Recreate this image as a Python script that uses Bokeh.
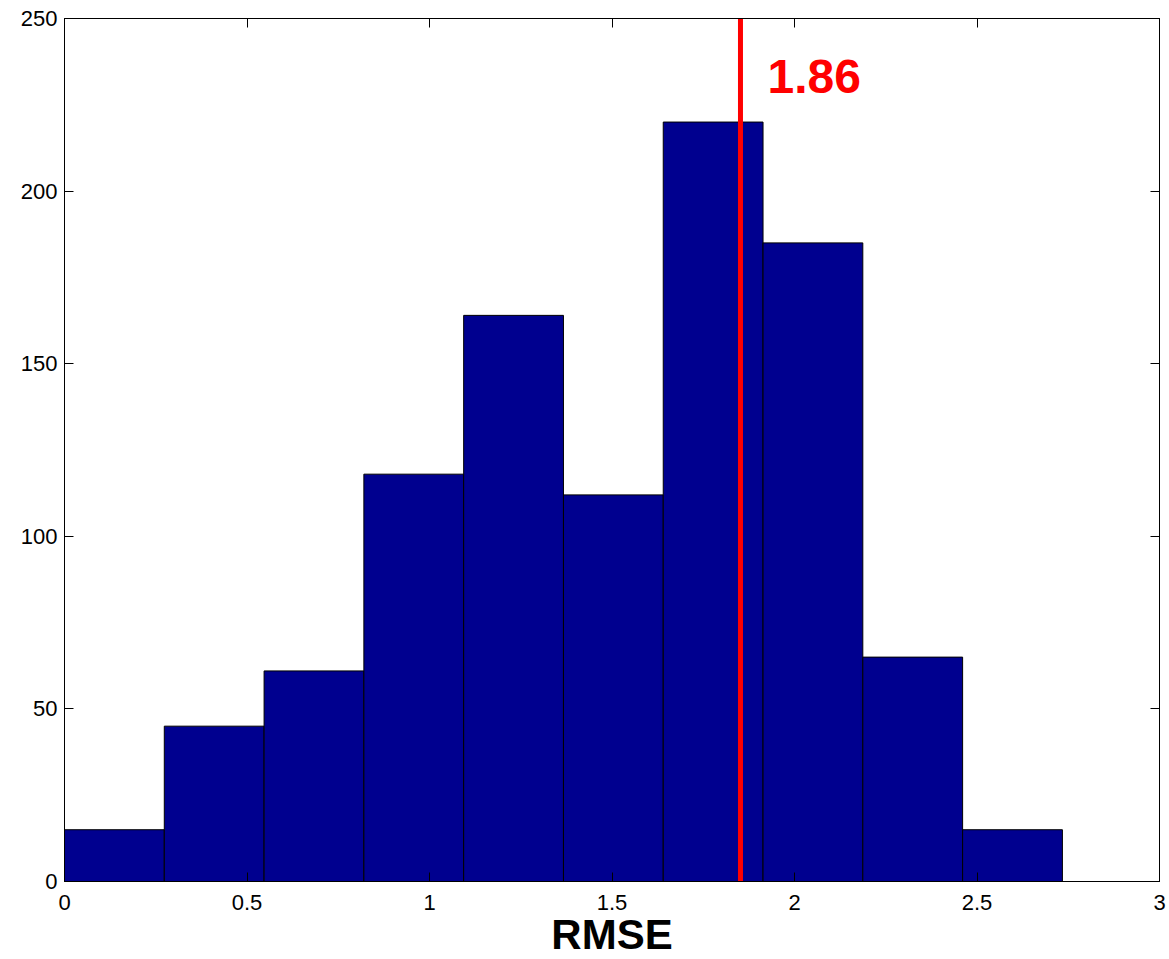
from bokeh.plotting import figure
from bokeh.models import LinearAxis, FixedTicker, Range1d, Label, CustomJSTickFormatter, Title
from bokeh.core.properties import value
from bokeh.embed import file_html
from bokeh.resources import INLINE

# ---- data ----
bin_edges = [0.0, 0.2734, 0.5468, 0.8202, 1.0936, 1.367, 1.6404, 1.9138, 2.1872, 2.4606, 2.734]
counts = [15, 45, 61, 118, 164, 112, 220, 185, 65, 15]
mean_rmse = 1.852
mean_label = "1.86"
x_ticks = [0, 0.5, 1, 1.5, 2, 2.5, 3]
x_tick_labels = ["0", "0.5", "1", "1.5", "2", "2.5", "3"]
y_ticks = [0, 50, 100, 150, 200, 250]
x_title = "RMSE"

FONT = "Liberation Sans"

p = figure(width=1169, height=959, output_backend="svg", toolbar_location=None,
           x_range=Range1d(0, 3), y_range=Range1d(0, 250),
           min_border_left=64, min_border_right=10, min_border_top=18, min_border_bottom=78,
           x_axis_location=None, y_axis_location=None)
p.grid.visible = False
p.outline_line_color = "black"
p.outline_line_width = 1
p.background_fill_color = "white"
p.border_fill_color = "white"

p.quad(left=bin_edges[:-1], right=bin_edges[1:], bottom=0, top=counts,
       fill_color="#00008F", line_color="black", line_width=1)

p.segment(x0=[mean_rmse], y0=[0], x1=[mean_rmse], y1=[250],
          line_color="#FF0000", line_width=5)

p.add_layout(Label(x=1.926, y=233.2, text=mean_label, text_color="#FF0000",
                   text_font=FONT, text_font_size="48px", text_font_style="bold",
                   text_align="left", text_baseline="alphabetic"))

blank = CustomJSTickFormatter(code="return '';")

def style_axis(ax):
    ax.major_tick_in = 9
    ax.major_tick_out = 0
    ax.minor_tick_in = 0
    ax.minor_tick_out = 0
    ax.axis_line_color = "black"
    ax.major_tick_line_color = "black"
    ax.major_label_text_font = FONT
    ax.major_label_text_font_size = "22px"
    ax.major_label_text_color = "black"

xb = LinearAxis(ticker=FixedTicker(ticks=x_ticks))
xb.major_label_overrides = {t: l for t, l in zip(x_ticks, x_tick_labels)}
style_axis(xb)
xb.major_label_standoff = 13
p.add_layout(xb, "below")

p.add_layout(Title(text=x_title, align="center", vertical_align="bottom",
                   text_font=FONT, text_font_size="42px",
                   text_font_style="bold", text_color="black", standoff=-7), "below")

yl = LinearAxis(ticker=FixedTicker(ticks=y_ticks))
style_axis(yl)
yl.major_label_standoff = 7
p.add_layout(yl, "left")

xt = LinearAxis(ticker=FixedTicker(ticks=x_ticks), formatter=blank)
style_axis(xt)
xt.major_label_standoff = 0
p.add_layout(xt, "above")

yr = LinearAxis(ticker=FixedTicker(ticks=y_ticks), formatter=blank)
style_axis(yr)
yr.major_label_standoff = 0
p.add_layout(yr, "right")

open("out.html", "w").write(file_html(p, INLINE))
